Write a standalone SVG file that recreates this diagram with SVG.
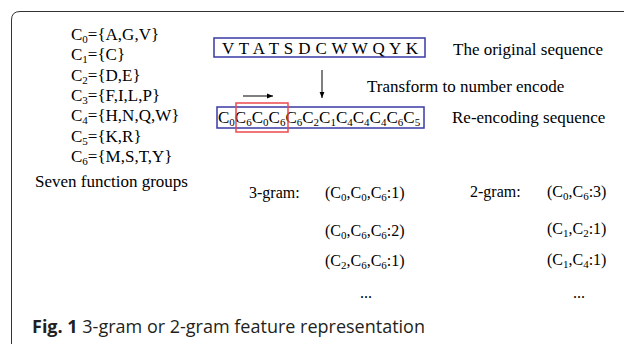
<svg xmlns="http://www.w3.org/2000/svg" width="624" height="344" viewBox="0 0 624 344">
<defs>
<marker id="ah" viewBox="0 0 10 10" refX="10" refY="5" markerWidth="6" markerHeight="6" orient="auto" markerUnits="userSpaceOnUse">
<path d="M0,1 L10,5 L0,9 z" fill="#000"/>
</marker>
<style>
.t{font-family:"Liberation Serif","Times New Roman",serif;font-size:17px;fill:#000}
.g{font-family:"Liberation Serif","Times New Roman",serif;font-size:16px;fill:#000}
.s{font-size:11px}
.box{fill:none;stroke:#3a3aa8;stroke-width:1.5}
.red{fill:none;stroke:#ec4a4e;stroke-width:1.5}
.ln{stroke:#000;stroke-width:1;fill:none}
.cap{font-family:"Open Sans","Noto Sans","Liberation Sans",sans-serif;font-size:18px;fill:#231f20}
</style>
</defs>
<path d="M11.5,344 V20 Q11.5,11.5 20,11.5 H624" fill="none" stroke="#333" stroke-width="1"/>
<g id="groups">
<text class="t" x="71" y="40">C<tspan class="s" dy="3">0</tspan><tspan dy="-3">={A,G,V}</tspan></text>
<text class="t" x="71" y="60.3">C<tspan class="s" dy="3">1</tspan><tspan dy="-3">={C}</tspan></text>
<text class="t" x="71" y="80.7">C<tspan class="s" dy="3">2</tspan><tspan dy="-3">={D,E}</tspan></text>
<text class="t" x="71" y="101">C<tspan class="s" dy="3">3</tspan><tspan dy="-3">={F,I,L,P}</tspan></text>
<text class="t" x="71" y="121.3">C<tspan class="s" dy="3">4</tspan><tspan dy="-3">={H,N,Q,W}</tspan></text>
<text class="t" x="71" y="141.7">C<tspan class="s" dy="3">5</tspan><tspan dy="-3">={K,R}</tspan></text>
<text class="t" x="71" y="162">C<tspan class="s" dy="3">6</tspan><tspan dy="-3">={M,S,T,Y}</tspan></text>
<text class="t" x="35" y="187">Seven function groups</text>
</g>
<g id="original">
<rect class="box" x="214" y="38" width="211" height="19"/>
<text class="t" x="222" y="54" textLength="196" lengthAdjust="spacing">V T A T S D C W W Q Y K</text>
<text class="t" x="453" y="55">The original sequence</text>
</g>
<g id="reencoded">
<rect class="box" x="217" y="107" width="207" height="21"/>
<text class="t" x="218" y="123">C<tspan class="s" dy="3">0</tspan><tspan dy="-3">C</tspan><tspan class="s" dy="3">6</tspan><tspan dy="-3">C</tspan><tspan class="s" dy="3">0</tspan><tspan dy="-3">C</tspan><tspan class="s" dy="3">6</tspan><tspan dy="-3">C</tspan><tspan class="s" dy="3">6</tspan><tspan dy="-3">C</tspan><tspan class="s" dy="3">2</tspan><tspan dy="-3">C</tspan><tspan class="s" dy="3">1</tspan><tspan dy="-3">C</tspan><tspan class="s" dy="3">4</tspan><tspan dy="-3">C</tspan><tspan class="s" dy="3">4</tspan><tspan dy="-3">C</tspan><tspan class="s" dy="3">4</tspan><tspan dy="-3">C</tspan><tspan class="s" dy="3">6</tspan><tspan dy="-3">C</tspan><tspan class="s" dy="3">5</tspan></text>
<rect class="red" x="236" y="103" width="52" height="29"/>
<text class="t" x="452" y="123">Re-encoding sequence</text>
</g>
<g id="connectors">
<line class="ln" x1="322" y1="70" x2="322" y2="98" marker-end="url(#ah)"/>
<line class="ln" x1="243" y1="96" x2="273" y2="96" marker-end="url(#ah)"/>
</g>
<g id="transform-label">
<text class="t" x="367" y="92">Transform to number encode</text>
</g>
<g id="trigram">
<text class="g" x="249" y="198">3-gram:</text>
<text class="g" x="325" y="198">(C<tspan class="s" dy="3">0</tspan><tspan dy="-3">,C</tspan><tspan class="s" dy="3">0</tspan><tspan dy="-3">,C</tspan><tspan class="s" dy="3">6</tspan><tspan dy="-3">:1)</tspan></text>
<text class="g" x="325" y="236">(C<tspan class="s" dy="3">0</tspan><tspan dy="-3">,C</tspan><tspan class="s" dy="3">6</tspan><tspan dy="-3">,C</tspan><tspan class="s" dy="3">6</tspan><tspan dy="-3">:2)</tspan></text>
<text class="g" x="325" y="266">(C<tspan class="s" dy="3">2</tspan><tspan dy="-3">,C</tspan><tspan class="s" dy="3">6</tspan><tspan dy="-3">,C</tspan><tspan class="s" dy="3">6</tspan><tspan dy="-3">:1)</tspan></text>
<text class="g" x="360" y="298">...</text>
</g>
<g id="bigram">
<text class="g" x="470" y="197">2-gram:</text>
<text class="g" x="547" y="197">(C<tspan class="s" dy="3">0</tspan><tspan dy="-3">,C</tspan><tspan class="s" dy="3">6</tspan><tspan dy="-3">:3)</tspan></text>
<text class="g" x="547" y="234">(C<tspan class="s" dy="3">1</tspan><tspan dy="-3">,C</tspan><tspan class="s" dy="3">2</tspan><tspan dy="-3">:1)</tspan></text>
<text class="g" x="547" y="265">(C<tspan class="s" dy="3">1</tspan><tspan dy="-3">,C</tspan><tspan class="s" dy="3">4</tspan><tspan dy="-3">:1)</tspan></text>
<text class="g" x="573" y="298">...</text>
</g>
<g id="caption">
<text class="cap" x="32" y="333"><tspan font-weight="bold">Fig. 1</tspan> 3-gram or 2-gram feature representation</text>
</g>
</svg>
